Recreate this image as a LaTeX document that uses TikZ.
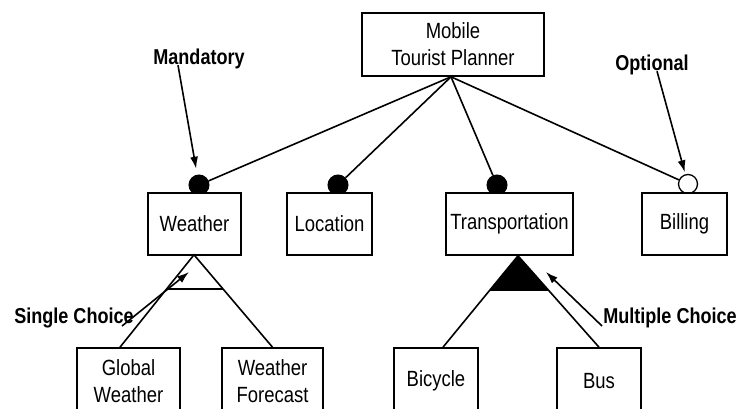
\documentclass[tikz,border=0pt]{standalone}
\usepackage{fontspec}
\setmainfont{Liberation Sans}[FakeStretch=0.84]
\usetikzlibrary{arrows.meta,calc}
\begin{document}
\begin{tikzpicture}[x=1pt,y=-1pt,
  feat/.style={draw,fill=white,line width=1.6pt,inner sep=0pt,align=center,font=\fontsize{22}{27}\selectfont},
  lbl/.style={inner sep=0pt,font=\bfseries\fontsize{21.5}{24}\selectfont},
  conn/.style={line width=1.6pt},
  mandc/.style={circle,fill=black,draw=black,line width=1pt,minimum size=20pt,inner sep=0pt},
  optc/.style={circle,fill=white,draw=black,line width=1.3pt,minimum size=19pt,inner sep=0pt},
  pointer/.style={line width=1.6pt,-{Latex[length=12pt,width=8pt]}}]
\useasboundingbox (0,0) rectangle (738,409);
\clip (0,0) rectangle (738,409);
% markers (drawn first so the boxes overlap them)
\node[mandc] (wc) at (199,185) {};
\node[mandc] (lc) at (338,185) {};
\node[mandc] (tc) at (497,185) {};
\node[optc] (bc) at (688,184) {};
% features
\node[feat,minimum width=182pt,minimum height=63pt] (root) at (453,44.5) {Mobile\\Tourist Planner};
\node[feat,minimum width=93pt,minimum height=62pt] (weather) at (194.5,224) {Weather};
\node[feat,minimum width=85pt,minimum height=62pt] (location) at (329.5,224) {Location};
\node[feat,minimum width=127pt,minimum height=62pt] (transp) at (509.5,224) {Transportation};
\node[feat,minimum width=85pt,minimum height=62pt] (billing) at (684.5,224) {Billing};
\node[feat,minimum width=103pt,minimum height=66pt] (gw) at (128.5,381) {Global\\Weather};
\node[feat,minimum width=101pt,minimum height=66pt] (wf) at (272.5,381) {Weather\\Forecast};
\node[feat,minimum width=84pt,minimum height=66pt] (bike) at (436,381) {Bicycle};
\node[feat,minimum width=84pt,minimum height=66pt] (bus) at (599,381) {Bus};
% root connectors
\coordinate (r) at ([xshift=-2pt]root.south);
\draw[conn] (r) -- (wc);
\draw[conn] (r) -- (lc);
\draw[conn] (r) -- (tc);
\draw[conn] (r) -- (bc);
% single choice group
\coordinate (wapex) at ([xshift=-0.5pt,yshift=1pt]weather.south);
\coordinate (gwtop) at ([xshift=-8.5pt]gw.north);
\draw[conn] (gwtop) -- (wapex) -- (wf.north);
\draw[line width=1.1pt] ($(wapex)!0.37!(gwtop)$) -- ($(wapex)!0.37!(wf.north)$);
% multiple choice group
\coordinate (tapex) at ([xshift=8.5pt]transp.south);
\coordinate (biketop) at ([xshift=7pt]bike.north);
\fill ($(tapex)!0.383!(biketop)$) -- (tapex) -- ($(tapex)!0.383!(bus.north)$) -- cycle;
\draw[conn] (biketop) -- (tapex) -- (bus.north);
% labels
\node[lbl] (mand) at (199,59) {Mandatory};
\node[lbl] (opt) at (652,65) {Optional};
\node[lbl] (single) at (74,318) {Single Choice};
\node[lbl] (multi) at (670,318) {Multiple Choice};
\draw[pointer,shorten >=6pt] ([xshift=-21pt,yshift=4pt]mand.south) -- (wc);
\draw[pointer,shorten >=2pt] ([xshift=5pt,yshift=4pt]opt.south) -- (bc);
\coordinate (sctip) at (189,272);
\coordinate (mctip) at (546,272);
\draw[pointer] ([xshift=48pt,yshift=-8pt]single.center) -- (sctip);
\draw[pointer] ([xshift=-68pt,yshift=-8pt]multi.center) -- (mctip);
\end{tikzpicture}
\end{document}
